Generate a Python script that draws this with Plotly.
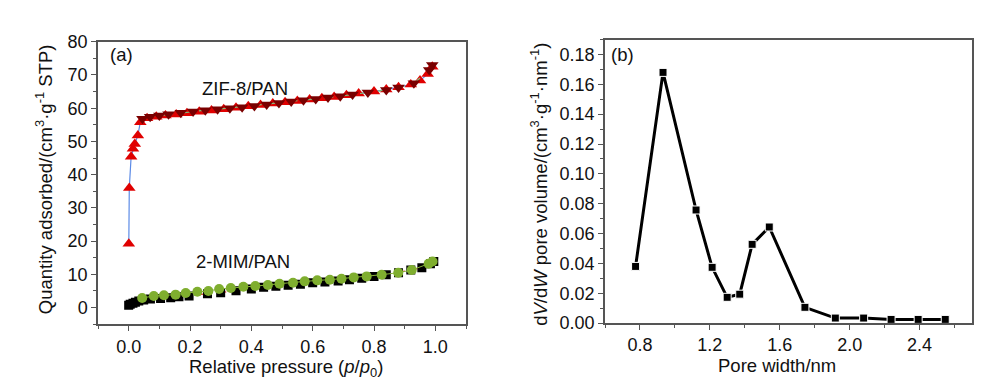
import plotly.graph_objects as go

# ---------------- data: panel (a) ----------------
zif_ads_p = [0.0005, 0.002, 0.008, 0.014, 0.02, 0.03, 0.038, 0.06, 0.09, 0.12, 0.155, 0.19, 0.23, 0.27,
             0.31, 0.35, 0.39, 0.43, 0.47, 0.51, 0.55, 0.59, 0.63, 0.67, 0.71, 0.75, 0.80, 0.84, 0.88,
             0.92, 0.95, 0.975, 0.99]
zif_ads_q = [19.2, 36.0, 45.4, 47.8, 49.2, 51.8, 55.8, 57.0, 57.4, 57.8, 58.1, 58.5, 58.9, 59.3,
             59.7, 60.1, 60.6, 61.0, 61.4, 61.8, 62.2, 62.6, 63.0, 63.4, 63.9, 64.4, 65.0, 65.6, 66.3,
             67.1, 68.3, 70.3, 72.5]
zif_des_p = [0.99, 0.98, 0.93, 0.88, 0.84, 0.78, 0.73, 0.69, 0.65, 0.61, 0.57, 0.53, 0.49, 0.45,
             0.41, 0.37, 0.33, 0.29, 0.25, 0.21, 0.17, 0.13, 0.10, 0.07, 0.045]
zif_des_q = [73.0, 71.5, 67.5, 66.2, 65.5, 64.7, 64.1, 63.6, 63.2, 62.8, 62.4, 62.0, 61.6, 61.1,
             60.7, 60.3, 60.0, 59.7, 59.4, 59.0, 58.6, 58.2, 57.8, 57.4, 56.8]

mim_ads_p = [0.0, 0.005, 0.014, 0.022, 0.033, 0.049, 0.071, 0.104, 0.137, 0.164, 0.197, 0.257, 0.30,
             0.35, 0.40, 0.44, 0.48, 0.52, 0.56, 0.60, 0.64, 0.683, 0.72, 0.76, 0.80, 0.84, 0.88,
             0.92, 0.956, 0.984, 0.995]
mim_ads_q = [0.7, 1.0, 1.3, 1.6, 2.0, 2.3, 2.6, 2.75, 3.0, 3.3, 3.5, 4.2, 4.5,
             5.1, 5.6, 6.1, 6.4, 6.7, 7.0, 7.5, 7.7, 8.0, 8.4, 8.8, 9.4, 9.9, 10.5,
             11.3, 12.0, 13.2, 13.9]
mim_des_p = [0.991, 0.978, 0.923, 0.879, 0.825, 0.776, 0.734, 0.694, 0.656, 0.615, 0.574, 0.536,
             0.492, 0.454, 0.413, 0.374, 0.333, 0.295, 0.26, 0.224, 0.186, 0.153, 0.115, 0.082, 0.044]
mim_des_q = [13.9, 13.2, 11.3, 10.5, 9.9, 9.4, 9.1, 8.7, 8.4, 8.2, 7.9, 7.5,
             7.2, 6.8, 6.5, 6.3, 5.9, 5.6, 5.0, 4.8, 4.4, 3.9, 3.7, 3.5, 2.9]

# ---------------- data: panel (b) ----------------
pore_width = [0.775, 0.932, 1.121, 1.213, 1.299, 1.371, 1.442, 1.540, 1.744, 1.918, 2.080, 2.237, 2.392, 2.547]
pore_dvdw = [0.038, 0.168, 0.0758, 0.0374, 0.0173, 0.0194, 0.0528, 0.0644, 0.0106, 0.0034, 0.0034,
             0.0025, 0.0025, 0.0025]

FONT = "Liberation Sans, Arial, sans-serif"

fig = go.Figure()

# panel (a)
fig.add_trace(go.Scatter(x=zif_ads_p, y=zif_ads_q, mode="lines+markers", xaxis="x", yaxis="y",
                         line=dict(color="#5b8ae6", width=1.2),
                         marker=dict(symbol="triangle-up", size=11, color="#e00000"), showlegend=False))
fig.add_trace(go.Scatter(x=zif_des_p, y=zif_des_q, mode="lines+markers", xaxis="x", yaxis="y",
                         line=dict(color="#7fbf7f", width=1.2, dash="dash"),
                         marker=dict(symbol="triangle-down", size=11, color="#7a0000"), showlegend=False))
fig.add_trace(go.Scatter(x=mim_ads_p, y=mim_ads_q, mode="lines+markers", xaxis="x", yaxis="y",
                         line=dict(color="#e03030", width=1.2, dash="dash"),
                         marker=dict(symbol="square", size=9, color="#000000"), showlegend=False))
fig.add_trace(go.Scatter(x=mim_des_p, y=mim_des_q, mode="lines+markers", xaxis="x", yaxis="y",
                         line=dict(color="#8ab43c", width=1),
                         marker=dict(symbol="circle", size=10, color="#7fae2f"), showlegend=False))

# panel (b)
fig.add_trace(go.Scatter(x=pore_width, y=pore_dvdw, mode="lines+markers", xaxis="x2", yaxis="y2",
                         line=dict(color="#000000", width=3),
                         marker=dict(symbol="square", size=8, color="#000000",
                                     line=dict(color="#ffffff", width=1)), showlegend=False))

axis_common = dict(showgrid=False, zeroline=False, showline=True, linecolor="#555555", linewidth=1.5,
                   mirror=True, ticks="outside", ticklen=5, tickwidth=1.2, tickcolor="#555555",
                   ticklabelstandoff=0,
                   tickfont=dict(family=FONT, size=18, color="#111111"))

fig.update_layout(
    width=1000, height=385,
    margin=dict(l=0, r=0, t=0, b=0),
    paper_bgcolor="white", plot_bgcolor="white",
    xaxis=dict(domain=[0.090, 0.458], range=[-0.1, 1.1], tickvals=[0, 0.2, 0.4, 0.6, 0.8, 1.0],
               ticktext=["0.0", "0.2", "0.4", "0.6", "0.8", "1.0"], anchor="y",
               minor=dict(dtick=0.1, ticks="outside", ticklen=3, tickcolor="#555555"), **axis_common),
    yaxis=dict(domain=[0.161, 0.935], range=[-5, 80], dtick=10, anchor="x",
               minor=dict(dtick=5, ticks="outside", ticklen=3, tickcolor="#555555"), **axis_common),
    xaxis2=dict(domain=[0.597, 0.964], range=[0.6, 2.7], tickvals=[0.8, 1.2, 1.6, 2.0, 2.4],
                ticktext=["0.8", "1.2", "1.6", "2.0", "2.4"], anchor="y2",
                minor=dict(dtick=0.2, ticks="outside", ticklen=3, tickcolor="#555555"), **axis_common),
    yaxis2=dict(domain=[0.164, 0.941], range=[0, 0.19], dtick=0.02, tickformat=".2f", anchor="x2",
                minor=dict(dtick=0.01, ticks="outside", ticklen=3, tickcolor="#555555"), **axis_common),
)

title_font = dict(family=FONT, size=18.5, color="#111111")
ann = [
    dict(text="Relative pressure (<i>p</i>/<i>p</i><sub>0</sub>)", x=278, y=369),
    dict(text="Quantity adsorbed/(cm<sup>3</sup>·g<sup>-1</sup> STP)", x=36, y=170, textangle=-90),
    dict(text="Pore width/nm", x=769, y=367),
    dict(text="d<i>V</i>/d<i>W</i> pore volume/(cm<sup>3</sup>·g<sup>-1</sup>·nm<sup>-1</sup>)", x=531, y=176,
         textangle=-90),
    dict(text="(a)", x=113, y=38),
    dict(text="(b)", x=614, y=39),
    dict(text="ZIF-8/PAN", x=237, y=74),
    dict(text="2-MIM/PAN", x=235, y=257),
]
for a in ann:
    fig.add_annotation(text=a["text"], x=a["x"] / 1000, y=1 - a["y"] / 385, xref="paper", yref="paper",
                       showarrow=False, font=title_font, textangle=a.get("textangle", 0),
                       xanchor="center", yanchor="middle")

fig.write_html("out.html")
